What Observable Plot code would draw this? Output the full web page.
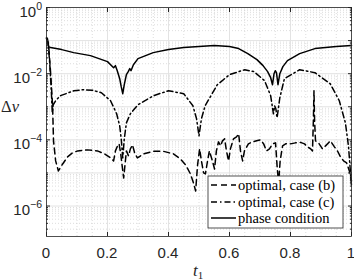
<!DOCTYPE html>
<html><head><meta charset="utf-8">
<script src="https://cdn.jsdelivr.net/npm/d3@7"></script>
<script src="https://cdn.jsdelivr.net/npm/@observablehq/plot@0.6"></script>
<style>
body{margin:0;background:#fff}
#chart{position:relative;width:354px;height:279px}
</style>
</head><body><div id="chart"></div>
<script>
// optimal, case (b) — dashed
const tB = [0,0.007,0.013,0.020,0.023,0.030,0.039,0.053,0.069,0.085,0.102,0.134,0.167,0.190,0.210,0.220,0.226,0.233,0.238,0.243,0.248,0.253,0.257,0.262,0.269,0.275,0.282,0.289,0.298,0.318,0.351,0.384,0.416,0.439,0.456,0.472,0.482,0.489,0.495,0.502,0.508,0.515,0.521,0.528,0.534,0.544,0.551,0.557,0.564,0.571,0.577,0.584,0.590,0.597,0.603,0.613,0.623,0.630,0.636,0.643,0.649,0.662,0.675,0.689,0.702,0.712,0.721,0.731,0.741,0.751,0.756,0.761,0.766,0.774,0.784,0.800,0.816,0.833,0.846,0.856,0.866,0.872,0.875,0.877,0.879,0.882,0.892,0.905,0.915,0.931,0.944,0.954,0.964,0.974,0.984,0.993,1.0];
const vB = [0.115,0.0705,0.0123,0.00107,9.33e-5,2.31e-5,1.15e-5,1.87e-5,3.05e-5,4.04e-5,4.64e-5,4.98e-5,4.64e-5,3.77e-5,2.85e-5,2.31e-5,4.64e-5,6.58e-5,7.56e-5,4.04e-5,1.63e-5,7.05e-6,1.63e-5,4.64e-5,3.27e-5,5.34e-5,7.05e-5,4.04e-5,2.85e-5,3.77e-5,4.49e-5,4.49e-5,3.77e-5,2.66e-5,1.75e-5,9.33e-6,4.98e-6,2.85e-6,1.63e-5,5.34e-5,2.31e-5,1e-5,9.33e-6,2.31e-5,4.64e-5,2.31e-5,1.32e-5,4.64e-5,8.69e-5,6.58e-5,9.33e-5,1.07e-4,4.64e-5,2.31e-5,5.34e-5,1.07e-4,1.23e-4,1.52e-4,4.64e-5,2.31e-5,4.64e-5,7.56e-5,8.69e-5,9.33e-5,1e-4,7.56e-5,4.64e-5,5.34e-5,7.56e-5,8.11e-5,1.63e-5,4.64e-6,2.31e-5,6.58e-5,7.56e-5,7.56e-5,8.11e-5,8.4e-5,7.56e-5,6.14e-5,5.34e-5,4.64e-5,3.77e-4,3.05e-3,3.77e-4,9.33e-5,8.11e-5,5.34e-5,6.58e-5,9.33e-5,6.14e-5,4.64e-5,3.05e-5,2.31e-5,2.01e-5,1.15e-5,5.73e-6];

// optimal, case (c) — dash-dot
const tC = [0,0.005,0.010,0.015,0.019,0.022,0.030,0.045,0.090,0.120,0.150,0.180,0.210,0.230,0.240,0.245,0.250,0.255,0.262,0.275,0.300,0.350,0.400,0.450,0.480,0.492,0.500,0.508,0.520,0.560,0.600,0.650,0.680,0.715,0.735,0.744,0.748,0.752,0.756,0.765,0.780,0.830,0.880,0.930,0.960,0.980,0.990,1.0];
const vC = [0.115,0.0869,0.0248,0.00433,0.000658,0.00115,0.00152,0.00215,0.00305,0.00327,0.00316,0.00266,0.00152,0.000614,0.000266,0.000107,2.85e-5,0.000107,0.000327,0.000614,0.00115,0.00215,0.00305,0.00248,0.00107,0.000433,0.000132,0.000433,0.00107,0.00464,0.00933,0.0132,0.0115,0.00614,0.00215,0.000614,0.00107,0.000869,0.000464,0.00187,0.00705,0.0132,0.0107,0.00498,0.00152,0.000327,6.58e-5,4.04e-6];

// phase condition — solid
const tP = [0,0.003,0.007,0.013,0.050,0.089,0.144,0.200,0.220,0.226,0.232,0.240,0.245,0.250,0.255,0.262,0.268,0.273,0.277,0.285,0.300,0.350,0.400,0.450,0.500,0.550,0.600,0.630,0.660,0.690,0.710,0.725,0.735,0.741,0.746,0.750,0.754,0.759,0.765,0.775,0.790,0.830,0.880,0.950,1.0];
const vP = [0.123,0.115,0.0658,0.0614,0.0534,0.0433,0.0351,0.0231,0.0152,0.0175,0.0123,0.00705,0.00404,0.00248,0.00464,0.00933,0.0115,0.0142,0.0123,0.0187,0.0285,0.0433,0.0534,0.0614,0.0658,0.0705,0.0658,0.0573,0.0404,0.0266,0.0175,0.0115,0.00756,0.00464,0.01,0.0123,0.0107,0.00464,0.01,0.0163,0.0248,0.0404,0.0573,0.0658,0.0705];

const seriesNames = ["optimal, case (b)", "optimal, case (c)", "phase condition"];
const dashes = ["6,4", "6,3,1.5,3", null];

const xTicks = [0, 0.2, 0.4, 0.6, 0.8, 1];
const xTickLabels = ["0", "0.2", "0.4", "0.6", "0.8", "1"];
const yTicks = [1, 1e-2, 1e-4, 1e-6];
const yTickExps = ["0", "\u22122", "\u22124", "\u22126"];
const yDomain = [1.2e-7, 1];

const xMinor = d3.range(0, 1.0001, 0.05).filter(v => Math.abs(v * 5 - Math.round(v * 5)) > 1e-6);
const yMinor = [];
for (let e = -7; e < 0; e++) for (let m = 2; m <= 9; m++) { const v = m * Math.pow(10, e); if (v >= yDomain[0]) yMinor.push(v); }
const yDecades = [1e-1, 1e-3, 1e-5, 1e-7].filter(v => v >= yDomain[0]);

const mk = (ts, vs) => ts.map((t, i) => ({t, v: vs[i]}));
const dataB = mk(tB, vB), dataC = mk(tC, vC), dataP = mk(tP, vP);

const axisFont = "Liberation Sans, Arial, sans-serif";
const noText = () => "";

const plot = Plot.plot({
  width: 354, height: 279,
  marginLeft: 46, marginRight: 3, marginTop: 7, marginBottom: 43,
  style: {fontFamily: axisFont, fontSize: "15px", color: "#262626", background: "#fff"},
  x: {domain: [0, 1]},
  y: {type: "log", domain: yDomain},
  marks: [
    Plot.ruleY(yMinor, {stroke: "#cfcfcf", strokeWidth: 0.7, strokeDasharray: "1,2"}),
    Plot.ruleX(xMinor, {stroke: "#cfcfcf", strokeWidth: 0.7, strokeDasharray: "1,2"}),
    Plot.ruleY([...yTicks, ...yDecades], {stroke: "#e3e3e3", strokeWidth: 1}),
    Plot.ruleX(xTicks, {stroke: "#e3e3e3", strokeWidth: 1}),
    Plot.line(dataC, {x: "t", y: "v", stroke: "#000", strokeWidth: 1.5, strokeDasharray: dashes[1]}),
    Plot.line(dataB, {x: "t", y: "v", stroke: "#000", strokeWidth: 1.5, strokeDasharray: dashes[0]}),
    Plot.line(dataP, {x: "t", y: "v", stroke: "#000", strokeWidth: 1.5}),
    Plot.frame({stroke: "#262626", strokeWidth: 0.8}),
    Plot.axisX({ticks: xTicks, tickSize: -4, tickFormat: noText, label: null}),
    Plot.axisX({anchor: "top", ticks: xTicks, tickSize: -4, tickFormat: noText, label: null}),
    Plot.axisY({ticks: yTicks, tickSize: -4, tickFormat: noText, label: null}),
    Plot.axisY({ticks: [...yDecades, ...yMinor], tickSize: -2, tickFormat: noText, label: null}),
    Plot.axisY({anchor: "right", ticks: [...yTicks, ...yDecades], tickSize: -4, tickFormat: noText, label: null}),
    Plot.axisY({anchor: "right", ticks: yMinor, tickSize: -2, tickFormat: noText, label: null})
  ]
});

const svgNS = "http://www.w3.org/2000/svg";
function el(name, attrs, parent) {
  const e = document.createElementNS(svgNS, name);
  for (const k in attrs) e.setAttribute(k, attrs[k]);
  parent.appendChild(e);
  return e;
}
const sx = plot.scale("x"), sy = plot.scale("y");

// x tick labels placed with the plot's own x scale
const gx = el("g", {"font-family": axisFont, "font-size": 15, fill: "#262626", "text-anchor": "middle"}, plot);
xTicks.forEach((v, i) => {
  const t = el("text", {x: sx.apply(v), y: 257.5}, gx);
  t.textContent = xTickLabels[i];
});
// y tick labels 10^k placed with the plot's own y scale
const gy = el("g", {"font-family": axisFont, "font-size": 15, fill: "#262626", "text-anchor": "end"}, plot);
yTicks.forEach((v, i) => {
  const t = el("text", {x: 42, y: sy.apply(v) + 9.5}, gy);
  const b = el("tspan", {}, t); b.textContent = "10";
  const s = el("tspan", {dy: -7, "font-size": 10.5}, t); s.textContent = yTickExps[i];
});

// axis titles
const serif = "Liberation Serif, Times New Roman, serif";
const yl = el("text", {x: 1, y: 112, "text-anchor": "start", "font-family": serif, "font-size": 16.5, fill: "#262626"}, plot);
yl.textContent = "\u0394";
const nu = el("tspan", {"font-style": "italic"}, yl); nu.textContent = "\u03bd";
const xl = el("text", {x: 193, y: 276, "text-anchor": "start", "font-family": serif, "font-size": 17, fill: "#262626", "font-style": "italic"}, plot);
xl.textContent = "t";
const sub = el("tspan", {dy: 2.5, "font-size": 11, "font-style": "normal"}, xl); sub.textContent = "1";

// legend
const lg = el("g", {"text-anchor": "start"}, plot);
el("rect", {x: 208, y: 176, width: 135, height: 52, fill: "#fff", stroke: "#262626", "stroke-width": 0.8}, lg);
const rowsY = [185, 202, 218];
seriesNames.forEach((name, i) => {
  const ln = el("line", {x1: 211, x2: 236, y1: rowsY[i], y2: rowsY[i], stroke: "#000", "stroke-width": 1.5}, lg);
  if (dashes[i]) ln.setAttribute("stroke-dasharray", dashes[i]);
  const tx = el("text", {x: 238, y: rowsY[i] + 4.5, "text-anchor": "start", "font-family": serif, "font-size": 14.5, fill: "#000"}, lg);
  tx.textContent = name;
});

document.getElementById("chart").appendChild(plot);
</script>
</body></html>
